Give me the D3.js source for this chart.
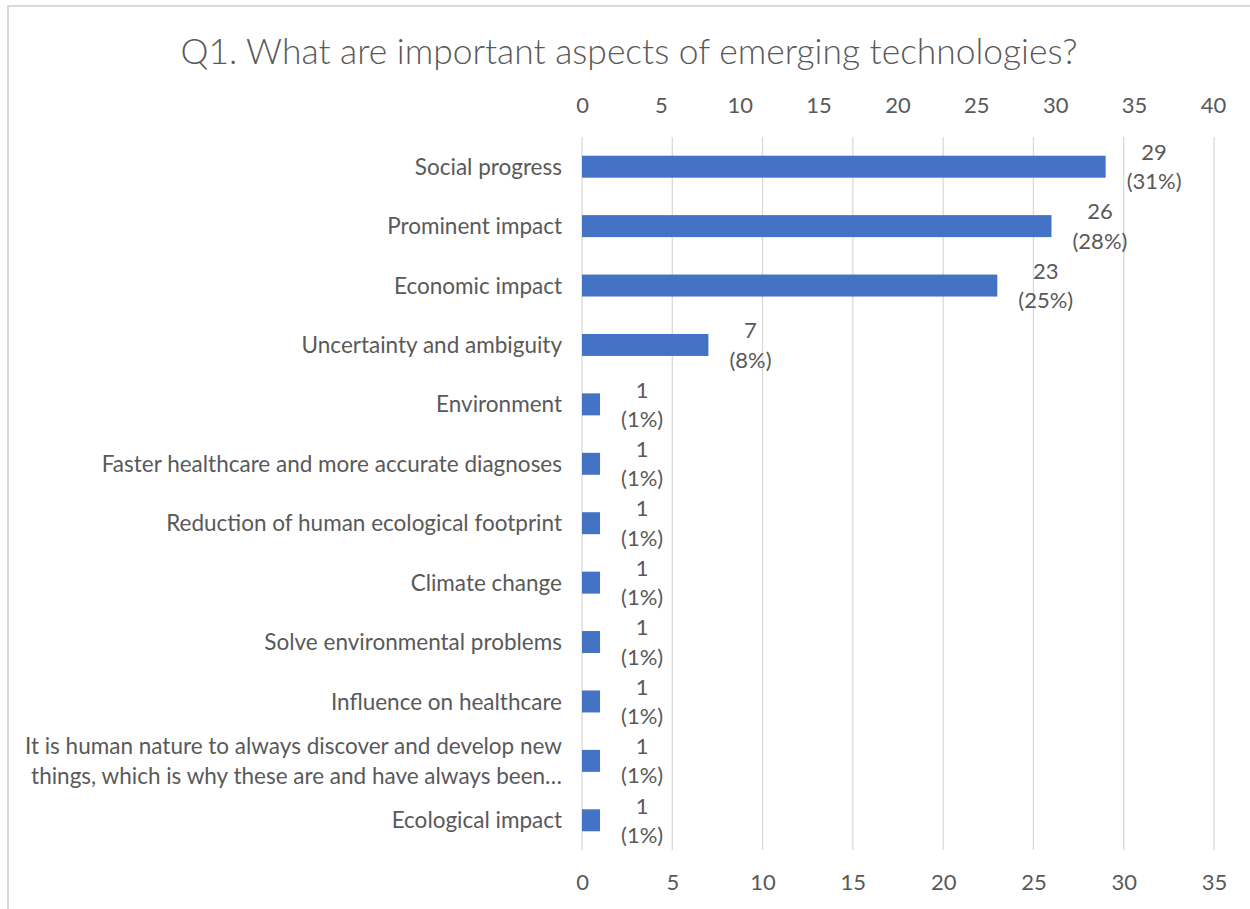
<!DOCTYPE html>
<html>
<head>
<meta charset="utf-8">
<script src="https://cdn.jsdelivr.net/npm/d3@7"></script>
<style>
  html, body { margin: 0; padding: 0; background: #ffffff; }
  svg { display: block; }
  text { font-family: Lato, "Liberation Sans", sans-serif; fill: #595959; }
</style>
</head>
<body>
<svg id="chart" width="1250" height="909"></svg>
<script>
// Survey answers: category labels ("\n" marks a wrapped line)
const categories = [
  "Social progress",
  "Prominent impact",
  "Economic impact",
  "Uncertainty and ambiguity",
  "Environment",
  "Faster healthcare and more accurate diagnoses",
  "Reduction of human ecological footprint",
  "Climate change",
  "Solve environmental problems",
  "Influence on healthcare",
  "It is human nature to always discover and develop new\nthings, which is why these are and have always been…",
  "Ecological impact"
];
// Number of respondents per answer
const counts = [29, 26, 23, 7, 1, 1, 1, 1, 1, 1, 1, 1];
// Share of respondents (%)
const shares = [31, 28, 25, 8, 1, 1, 1, 1, 1, 1, 1, 1];
// Axis ticks
const bottomTicks = [0, 5, 10, 15, 20, 25, 30, 35];
const topTicks = [0, 5, 10, 15, 20, 25, 30, 35, 40];

const title = "Q1. What are important aspects of emerging technologies?";

const svg = d3.select("#chart");

// chart frame
svg.append("rect")
  .attr("x", 8).attr("y", 6)
  .attr("width", 1260).attr("height", 930)
  .attr("fill", "#ffffff")
  .attr("stroke", "#d9d9d9")
  .attr("stroke-width", 2);

const plot = { left: 582, right: 1214, top: 137, bottom: 850 };

const x = d3.scaleLinear().domain([0, 35]).range([plot.left, plot.right]);
const xTop = d3.scaleLinear().domain([0, 40]).range([plot.left, 1213]);
const y = d3.scaleBand()
  .domain(categories)
  .range([plot.top, plot.bottom])
  .paddingInner(0.63)
  .paddingOuter(0.315);

const labelSize = 22.5;
const tickSize = 22;
const lineGap = 29.3;

// title
svg.append("text")
  .attr("x", 629).attr("y", 64)
  .attr("text-anchor", "middle")
  .style("font-size", "35.4px")
  .style("font-weight", 300)
  .text(title);

// vertical gridlines
svg.append("g")
  .selectAll("line")
  .data(bottomTicks)
  .join("line")
  .attr("x1", d => x(d)).attr("x2", d => x(d))
  .attr("y1", plot.top).attr("y2", plot.bottom)
  .attr("stroke", "#d9d9d9")
  .attr("stroke-width", 1.3);

// bottom value axis
const axB = svg.append("g")
  .attr("transform", `translate(0,${plot.bottom})`)
  .call(d3.axisBottom(x).tickValues(bottomTicks).tickSize(0).tickPadding(24));
axB.select(".domain").remove();
axB.selectAll("text").style("font-size", tickSize + "px").attr("fill", "#595959");

// top value axis
const axT = svg.append("g")
  .attr("transform", `translate(0,${plot.top})`)
  .call(d3.axisTop(xTop).tickValues(topTicks).tickSize(0).tickPadding(24));
axT.select(".domain").remove();
axT.selectAll("text").style("font-size", tickSize + "px").attr("fill", "#595959");

// bars
svg.append("g")
  .selectAll("rect")
  .data(categories)
  .join("rect")
  .attr("x", x(0))
  .attr("y", d => y(d))
  .attr("width", (d, i) => x(counts[i]) - x(0))
  .attr("height", y.bandwidth())
  .attr("fill", "#4472c4");

// category labels
const cat = svg.append("g")
  .selectAll("text")
  .data(categories)
  .join("text")
  .attr("text-anchor", "end")
  .style("font-size", labelSize + "px");
cat.each(function (d) {
  const lines = d.split("\n");
  const yc = y(d) + y.bandwidth() / 2;
  const first = yc - (lines.length - 1) * lineGap / 2 + 0.36 * labelSize;
  d3.select(this).selectAll("tspan")
    .data(lines)
    .join("tspan")
    .attr("x", 562)
    .attr("y", (l, k) => first + k * lineGap)
    .text(l => l);
});

// data labels: count over share, centred in a box just past the bar end
const lab = svg.append("g")
  .selectAll("text")
  .data(categories)
  .join("text")
  .attr("text-anchor", "middle")
  .style("font-size", tickSize + "px");
lab.each(function (d, i) {
  const t = d3.select(this);
  const yc = y(d) + y.bandwidth() / 2;
  const lines = [String(counts[i]), `(${shares[i]}%)`];
  const spans = t.selectAll("tspan").data(lines).join("tspan")
    .attr("y", (l, k) => yc + (k - 0.5) * lineGap + 0.36 * tickSize)
    .text(l => l);
  let w = 0;
  spans.each(function () { w = Math.max(w, this.getComputedTextLength()); });
  const cx = x(counts[i]) + 21 + w / 2;
  spans.attr("x", cx);
});
</script>
</body>
</html>
